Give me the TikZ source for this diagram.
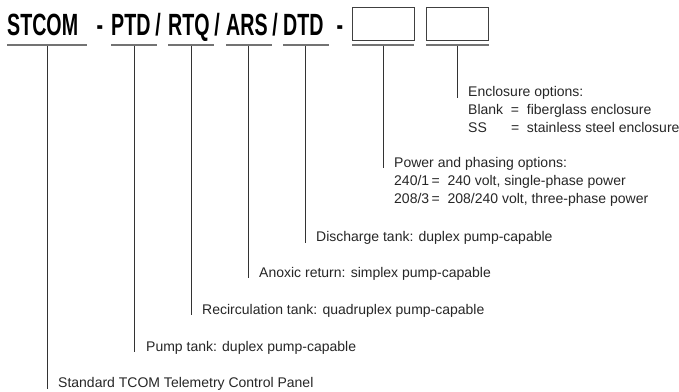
\documentclass[tikz,border=0pt]{standalone}
\usepackage{fontspec}
\setmainfont{Liberation Sans}
\newfontfamily\codefont[FakeStretch=0.64]{Liberation Sans Bold}
\usepackage{tikz}

\begin{document}
\begin{tikzpicture}[x=1pt,y=-1pt,
  code/.style={inner sep=0pt, font=\codefont\fontsize{30.7}{32}\selectfont},
  bar/.style={fill=black!55, draw=none, inner sep=0pt, minimum height=1.5pt},
  slot/.style={rectangle, draw=black!75, line width=1pt, inner sep=0pt,
    minimum width=62pt, minimum height=33pt},
  lbl/.style={inner sep=0pt, anchor=base west, text=black!85,
    font=\fontsize{14}{18}\selectfont},
  lead/.style={draw=black!80, line width=0.9pt, shorten >=-1pt}]

  \useasboundingbox (0,0) rectangle (679,391);

  % code line
  \node[code,anchor=base west] (stcom) at (7,35) {STCOM};
  \node[code,anchor=base] (d1) at (100,35) {-};
  \node[code,anchor=base west] (ptd) at (111,35) {PTD};
  \node[code,anchor=base] (s1) at (158,35) {/};
  \node[code,anchor=base west] (rtq) at (168,35) {RTQ};
  \node[code,anchor=base] (s2) at (217,35) {/};
  \node[code,anchor=base west] (ars) at (226,35) {ARS};
  \node[code,anchor=base] (s3) at (275,35) {/};
  \node[code,anchor=base west] (dtd) at (283,35) {DTD};
  \node[code,anchor=base] (d2) at (340,35) {-};
  \node[slot] (opt1) at (383,23.5) {};
  \node[slot] (opt2) at (457.5,23.5) {};

  % underlines
  \node[bar,minimum width=80pt] (bstcom) at (47,45) {};
  \node[bar,minimum width=46pt] (bptd) at (134,45) {};
  \node[bar,minimum width=46pt] (brtq) at (191,45) {};
  \node[bar,minimum width=46pt] (bars) at (248.5,45) {};
  \node[bar,minimum width=46pt] (bdtd) at (305.5,45) {};
  \node[bar,minimum width=62pt] (bopt1) at (383,45) {};
  \node[bar,minimum width=63pt] (bopt2) at (457.5,45) {};

  % descriptions
  \node[lbl] (lopt2) at (468,96.7) {\begin{tabular}[t]{@{}l@{\ \ }l@{}}
    \multicolumn{2}{@{}l@{}}{Enclosure options:}\\
    Blank & =\ \ fiberglass enclosure\\
    SS    & =\ \ stainless steel enclosure\end{tabular}};
  \node[lbl] (lopt1) at (394,167.3) {\begin{tabular}[t]{@{}l@{}}
    Power and phasing options:\\
    240/1\,=\ \ 240 volt, single-phase power\\
    208/3\,=\ \ 208/240 volt, three-phase power\end{tabular}};
  \node[lbl] (ldtd) at (316,241.5) {Discharge tank: duplex pump-capable};
  \node[lbl] (lars) at (259,277) {Anoxic return: simplex pump-capable};
  \node[lbl] (lrtq) at (202,314.3) {Recirculation tank: quadruplex pump-capable};
  \node[lbl] (lptd) at (146,351) {Pump tank: duplex pump-capable};
  \node[lbl] (lstcom) at (58,387.7) {Standard TCOM Telemetry Control Panel};

  \draw[lead] (bopt2.south) -- (bopt2.south |- lopt2.base);
  \draw[lead] (bopt1.south) -- (bopt1.south |- lopt1.base);
  \draw[lead] (bdtd.south) -- (bdtd.south |- ldtd.base);
  \draw[lead] (bars.south) -- (bars.south |- lars.base);
  \draw[lead] (brtq.south) -- (brtq.south |- lrtq.base);
  \draw[lead] (bptd.south) -- (bptd.south |- lptd.base);
  \draw[lead] (bstcom.south) -- (bstcom.south |- lstcom.base);
\end{tikzpicture}
\end{document}
